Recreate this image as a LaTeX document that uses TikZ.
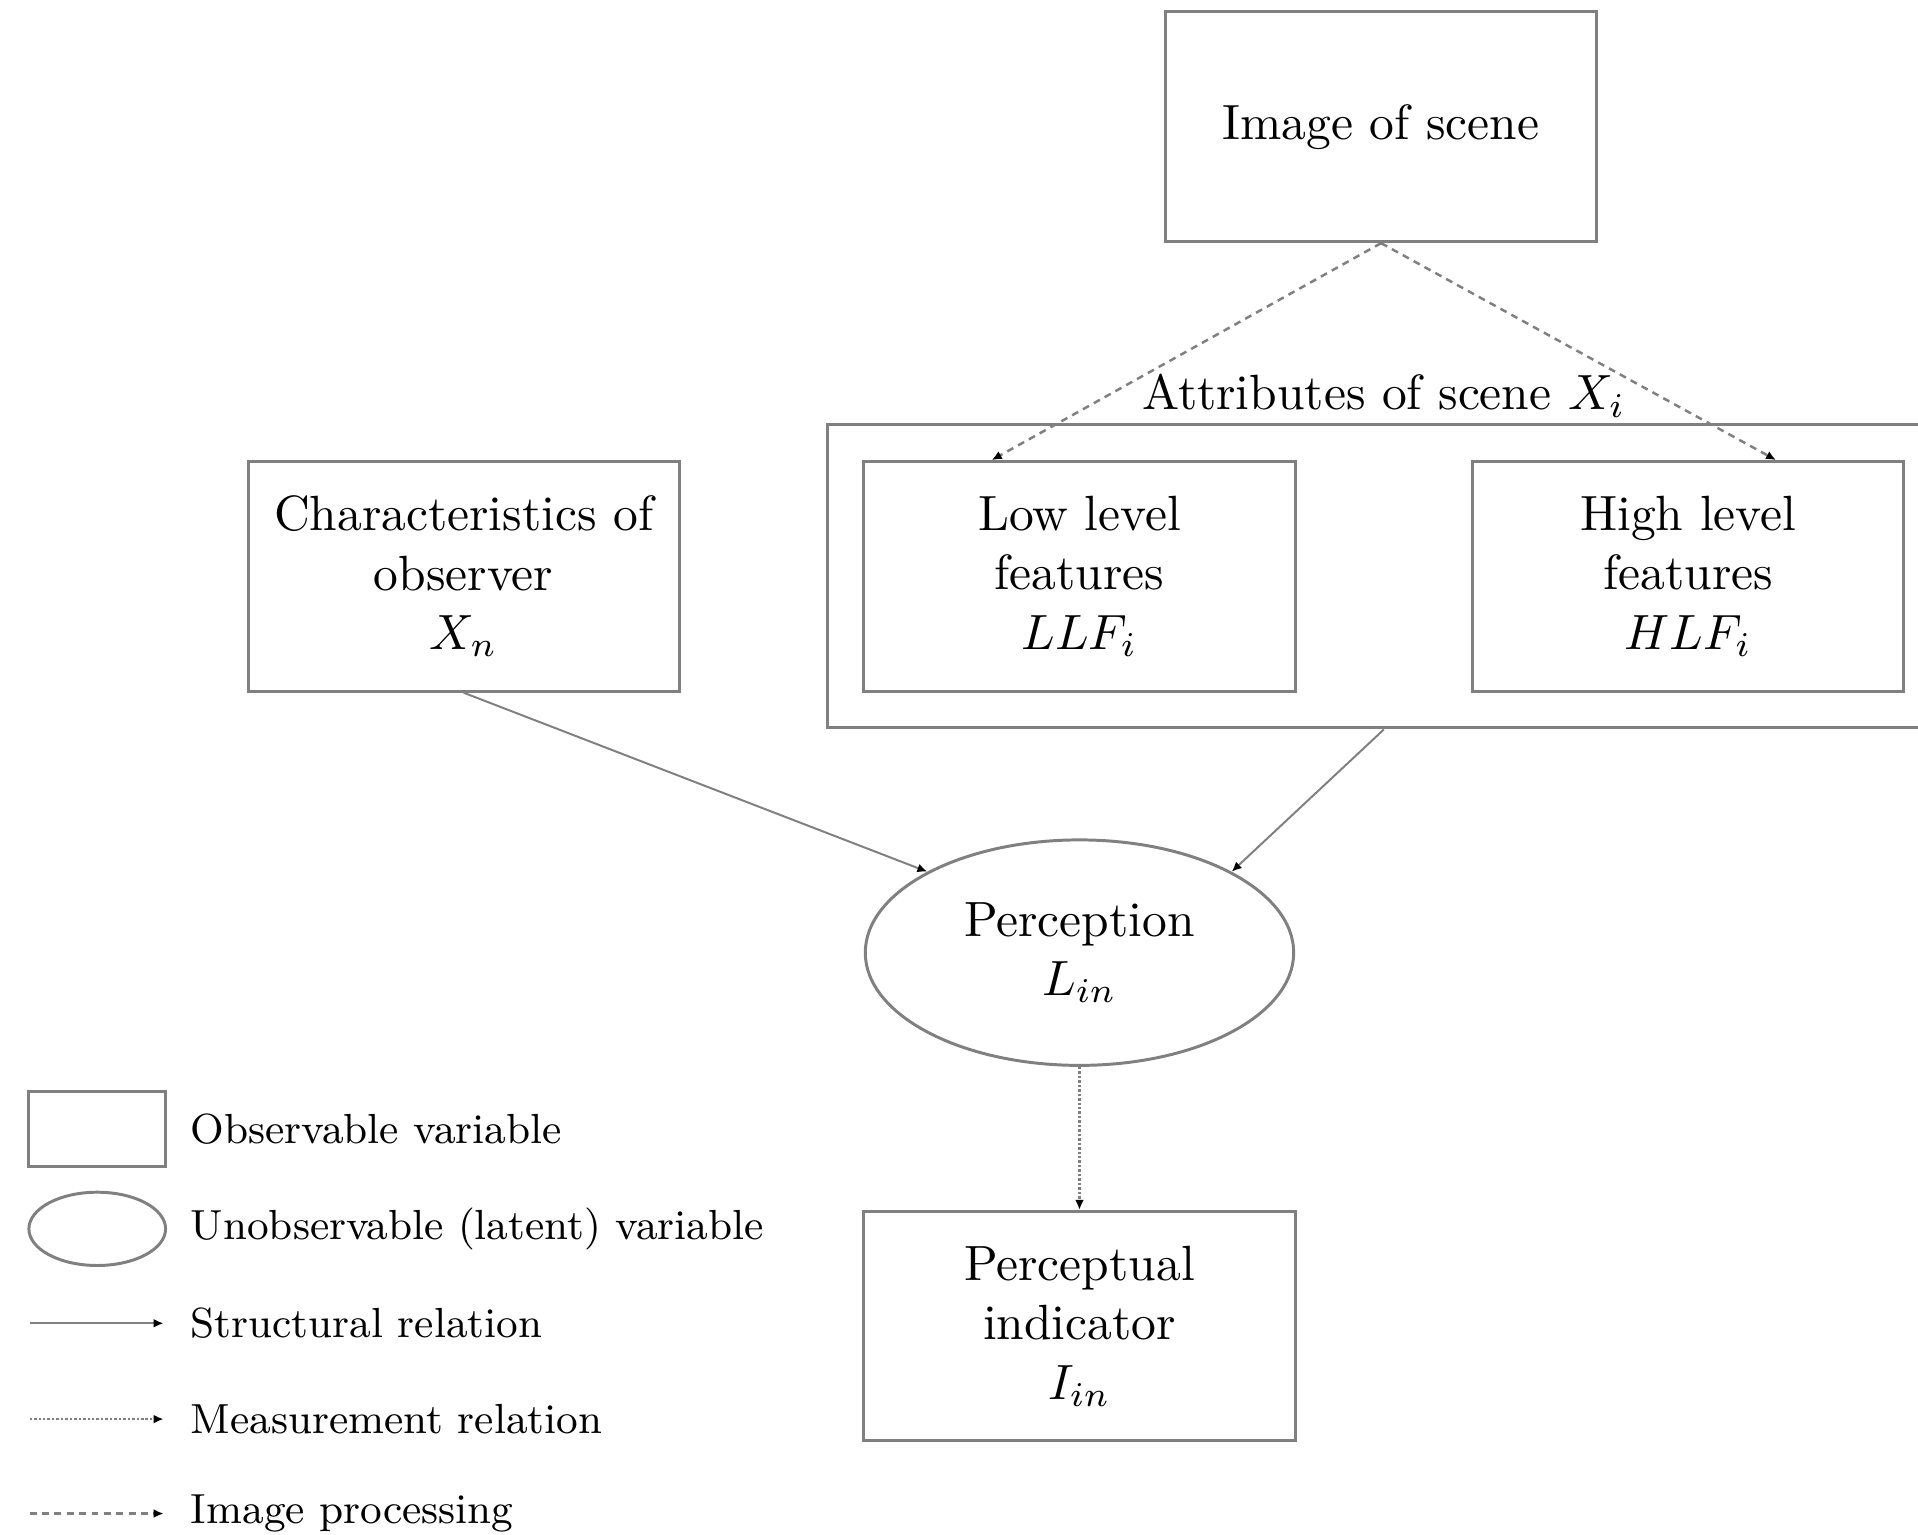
\documentclass[tikz,border=0pt]{standalone}
\usepackage{xcolor}
\usepackage{tikz}
\usetikzlibrary{positioning, fit, shapes.geometric, arrows.meta}

\begin{document}
\begin{tikzpicture}[node distance=4.35cm, on grid,
        >={Latex[length=2pt, width=1.8pt, color=black]},
        box/.style={draw=gray, line width=0.6pt, minimum width=3.06cm, minimum height=1.63cm, align=center},
        latent/.style={ellipse, draw=gray, line width=0.6pt, minimum width=3.04cm, minimum height=1.6cm, inner sep=0pt, align=center},
        structural/.style={->, draw=gray, line width=0.4pt},
        measurement/.style={->, draw=gray, line width=0.5pt, dash pattern=on 0.5pt off 0.4pt},
        imageproc/.style={->, draw=gray, line width=0.5pt, dash pattern=on 1.4pt off 1.1pt},
        legendtext/.style={anchor=west, font=\fontsize{8.5}{10}\selectfont}]

        \useasboundingbox (0,0) rectangle (13.61,-10.89);

        \node[box] (img) at (9.80,-0.90) {Image of scene};
        \node[box] (llf) at (7.66,-4.09) {Low level\\features\\$LLF_i$};
        \node[box] (hlf) [right=4.32cm of llf] {High level\\features\\$HLF_i$};
        \node[box] (obs) [left=4.37cm of llf] {Characteristics of\\observer\\$X_n$};
        \node[draw=gray, line width=0.6pt, fit=(llf)(hlf), inner sep=0.25cm,
              label={[yshift=-0.08cm]above:Attributes of scene $X_i$}] (attr) {};
        \node[latent] (perc) [below=2.67cm of llf] {Perception\\$L_{in}$};
        \node[box] (ind) [below=2.65cm of perc] {Perceptual\\indicator\\$I_{in}$};

        \path
        (img.south) edge[imageproc] (llf.127)
        (img.south) edge[imageproc] (hlf.53)
        (obs.south) edge[structural] (perc.152)
        (attr.south) edge[structural] (perc.28)
        (perc) edge[measurement] (ind);

        % legend
        \node[box, minimum width=0.97cm, minimum height=0.53cm] (lobs) at (0.69,-8.01) {};
        \node[latent, minimum width=0.97cm, minimum height=0.52cm] (llat) at (0.69,-8.72) {};
        \coordinate (ls0) at (0.21,-9.39);
        \coordinate (ls1) at (1.16,-9.39);
        \coordinate (lm0) at (0.21,-10.07);
        \coordinate (lm1) at (1.16,-10.07);
        \coordinate (li0) at (0.21,-10.74);
        \coordinate (li1) at (1.16,-10.74);
        \draw[structural] (ls0) -- (ls1);
        \draw[measurement] (lm0) -- (lm1);
        \draw[imageproc] (li0) -- (li1);

        \node[legendtext] (tobs) at (1.23,-8.01) {Observable variable};
        \node[legendtext] (tlat) at (1.23,-8.72) {Unobservable (latent) variable};
        \node[legendtext] (tstr) at (1.23,-9.39) {Structural relation};
        \node[legendtext] (tmea) at (1.23,-10.07) {Measurement relation};
        \node[legendtext] (timg) at (1.23,-10.74) {Image processing};

    \end{tikzpicture}
\end{document}
